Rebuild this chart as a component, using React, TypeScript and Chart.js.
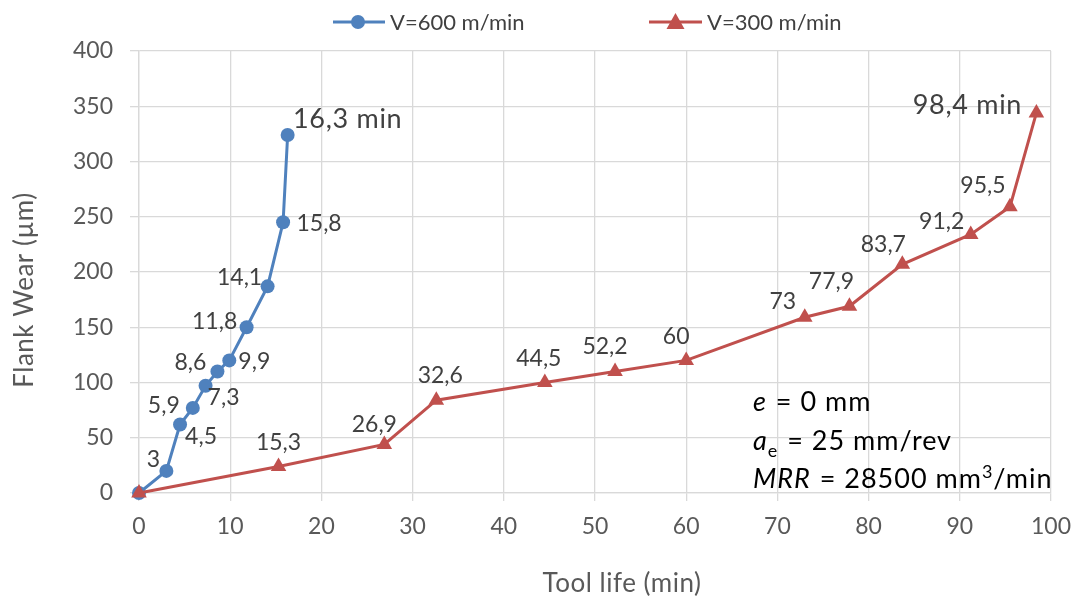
import React, { useEffect, useRef } from "react";
import { Chart, registerables } from "chart.js";

Chart.register(...registerables);

const FONT = "Lato";

const xBlue = [0, 3, 4.5, 5.9, 7.3, 8.6, 9.9, 11.8, 14.1, 15.8, 16.3];
const yBlue = [0, 20, 62, 77, 97, 110, 120, 150, 187, 245, 324];
const labelsBlue = ["", "3", "4,5", "5,9", "7,3", "8,6", "9,9", "11,8", "14,1", "15,8", "16,3 min"];

const xRed = [0, 15.3, 26.9, 32.6, 44.5, 52.2, 60, 73, 77.9, 83.7, 91.2, 95.5, 98.4];
const yRed = [0, 24, 44, 84, 100, 110, 120, 159, 169, 207, 234, 259, 344];
const labelsRed = ["", "15,3", "26,9", "32,6", "44,5", "52,2", "60", "73", "77,9", "83,7", "91,2", "95,5", "98,4 min"];

const seriesNames = ["V=600 m/min", "V=300 m/min"];
const xTitle = "Tool life (min)";
const yTitle = "Flank Wear (µm)";

// label placement (pixel offsets of label centre from its point) – styling only
const blueLabelOffsets = [[0, 0], [-13, -12], [21, 11], [-29, -3], [18, 11], [-27, -10], [25, 0], [-32, -7], [-28, -10], [36, 0], [60, -17]];
const redLabelOffsets = [[0, 0], [0, -25], [-10, -21], [4, -25], [-6, -25], [-10, -26], [-10, -25], [-22, -17], [-18, -26], [-19, -21], [-29, -14], [-27, -22], [-69, -9]];

const BLUE = "#4F81BD";
const RED = "#C0504D";

const labelPlugin = {
  id: "customDraw",
  afterDatasetsDraw(chart: any) {
    const ctx = chart.ctx;
    const xs = chart.scales.x;
    const ys = chart.scales.y;
    const drawLabels = (xv: number[], yv: number[], lab: string[], offs: number[][]) => {
      for (let i = 0; i < xv.length; i++) {
        if (!lab[i]) continue;
        const big = lab[i].indexOf("min") >= 0;
        const size = big ? 27 : 23;
        ctx.save();
        ctx.font = `${size}px ${FONT}`;
        (ctx as any).letterSpacing = big ? "0.7px" : "0px";
        ctx.fillStyle = "#404040";
        ctx.textAlign = "center";
        ctx.textBaseline = "alphabetic";
        const px = xs.getPixelForValue(xv[i]) + offs[i][0];
        const py = ys.getPixelForValue(yv[i]) + offs[i][1] + 0.36 * size;
        ctx.fillText(lab[i], px, py);
        ctx.restore();
      }
    };
    drawLabels(xBlue, yBlue, labelsBlue, blueLabelOffsets);
    drawLabels(xRed, yRed, labelsRed, redLabelOffsets);
  },
  afterDraw(chart: any) {
    const ctx = chart.ctx;
    ctx.save();
    // legend
    const ly = 22;
    ctx.lineWidth = 3;
    ctx.strokeStyle = BLUE;
    ctx.beginPath();
    ctx.moveTo(333, ly);
    ctx.lineTo(385, ly);
    ctx.stroke();
    ctx.fillStyle = BLUE;
    ctx.beginPath();
    ctx.arc(358, ly, 7, 0, Math.PI * 2);
    ctx.fill();
    ctx.strokeStyle = RED;
    ctx.beginPath();
    ctx.moveTo(649, ly);
    ctx.lineTo(702, ly);
    ctx.stroke();
    ctx.fillStyle = RED;
    ctx.beginPath();
    ctx.moveTo(675.5, ly - 9);
    ctx.lineTo(675.5 + 9, ly + 7);
    ctx.lineTo(675.5 - 9, ly + 7);
    ctx.closePath();
    ctx.fill();
    ctx.font = `22px ${FONT}`;
    ctx.fillStyle = "#404040";
    ctx.textAlign = "left";
    ctx.textBaseline = "alphabetic";
    ctx.fillText(seriesNames[0], 390, ly + 8);
    ctx.fillText(seriesNames[1], 707, ly + 8);

    // axis titles
    ctx.font = `26px ${FONT}`;
    (ctx as any).letterSpacing = "0.5px";
    ctx.fillStyle = "#595959";
    ctx.textAlign = "center";
    ctx.fillText(xTitle, 622, 592);
    ctx.save();
    ctx.translate(33, 290);
    ctx.rotate(-Math.PI / 2);
    ctx.fillText(yTitle, 0, 0);
    ctx.restore();

    // annotation
    ctx.fillStyle = "#000000";
    ctx.textAlign = "left";
    (ctx as any).letterSpacing = "1px";
    const x0 = 753;
    const fs = 27;
    const part = (t: string, x: number, y: number, font: string) => {
      ctx.font = font;
      ctx.fillText(t, x, y);
      return x + ctx.measureText(t).width;
    };
    const n = `${fs}px ${FONT}`;
    const it = `italic ${fs}px ${FONT}`;
    const sm = `18px ${FONT}`;
    let x = x0;
    x = part("e", x, 411, it);
    part(" = 0 mm", x + 1, 411, n);
    x = x0;
    x = part("a", x, 450, it);
    x = part("e", x, 457, sm);
    part(" = 25 mm/rev", x + 1, 450, n);
    x = x0;
    x = part("MRR", x, 488, it);
    x = part(" = 28500 mm", x + 1, 488, n);
    x = part("3", x, 478, sm);
    part("/min", x, 488, n);
    ctx.restore();
  },
};

export default function App() {
  const ref = useRef<HTMLCanvasElement>(null);
  useEffect(() => {
    if (!ref.current) return;
    const chart = new Chart(ref.current, {
      type: "scatter",
      data: {
        datasets: [
          {
            label: seriesNames[0],
            data: xBlue.map((v, i) => ({ x: v, y: yBlue[i] })),
            showLine: true,
            borderColor: BLUE,
            backgroundColor: BLUE,
            borderWidth: 3,
            pointStyle: "circle",
            pointRadius: 7,
            pointBorderWidth: 0,
            clip: false,
            order: 1,
          },
          {
            label: seriesNames[1],
            data: xRed.map((v, i) => ({ x: v, y: yRed[i] })),
            showLine: true,
            borderColor: RED,
            backgroundColor: RED,
            borderWidth: 3,
            pointStyle: "triangle",
            pointRadius: 9,
            pointBorderWidth: 0,
            clip: false,
            order: 0,
          },
        ],
      },
      options: {
        animation: false,
        responsive: false,
        devicePixelRatio: 1,
        layout: { padding: { top: 51, right: 31, left: 0, bottom: 0 } },
        plugins: { legend: { display: false }, tooltip: { enabled: false } },
        scales: {
          x: {
            type: "linear",
            min: 0,
            max: 100,
            ticks: { stepSize: 10, color: "#595959", font: { family: FONT, size: 23 }, padding: 12, maxRotation: 0 },
            grid: { color: "#d9d9d9", lineWidth: 1.3, tickLength: 8 },
            border: { color: "#d9d9d9", width: 1.3 },
            afterFit: (s: any) => { s.height = 108; },
          },
          y: {
            type: "linear",
            min: 0,
            max: 400,
            ticks: { stepSize: 50, color: "#595959", font: { family: FONT, size: 23 }, padding: 17 },
            grid: { color: "#d9d9d9", lineWidth: 1.3, tickLength: 9 },
            border: { color: "#d9d9d9", width: 1.3 },
            afterFit: (s: any) => { s.width = 139; },
          },
        },
      },
      plugins: [labelPlugin],
    } as any);
    return () => chart.destroy();
  }, []);
  return (
    <div style={{ position: "fixed", left: 0, top: 0, width: 1083, height: 601, background: "#fff" }}>
      <canvas ref={ref} width={1083} height={601} style={{ width: 1083, height: 601 }} />
    </div>
  );
}
